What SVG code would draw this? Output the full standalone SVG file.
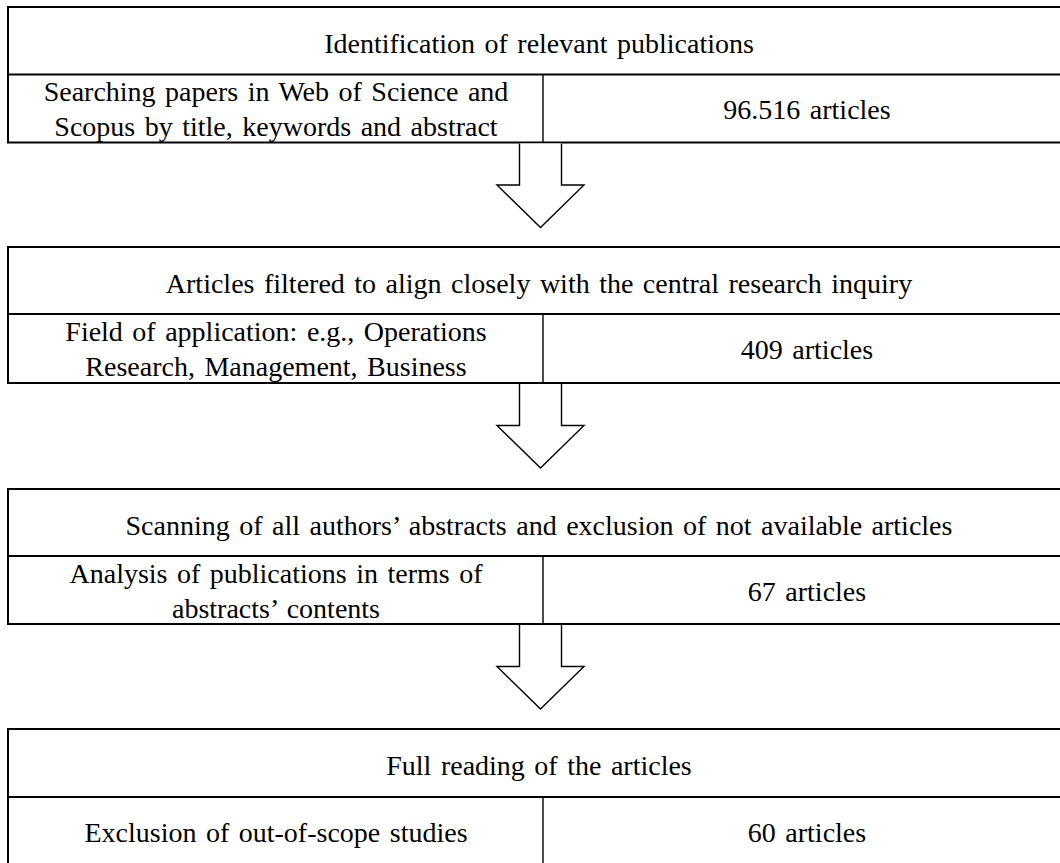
<svg xmlns="http://www.w3.org/2000/svg" width="1060" height="863" viewBox="0 0 1060 863">
<style>
.box{fill:#fff;stroke:#000;stroke-width:2}
.ln{stroke:#000;stroke-width:1.8;fill:none}
.vd{stroke:#000;stroke-width:1.4;fill:none}
.t{font-family:"Liberation Serif","Times New Roman",serif;font-size:28px;word-spacing:2.5px;fill:#000;text-anchor:middle}
.arr{fill:#fff;stroke:#000;stroke-width:1.4;stroke-linejoin:miter}
</style>
<rect width="1060" height="863" fill="#fff"/>
<g id="step1">
<rect class="box" x="8" y="7" width="1070" height="135.5"/>
<line class="ln" x1="8" y1="74.5" x2="1070" y2="74.5"/>
<line class="vd" x1="543" y1="74.5" x2="543" y2="142.5"/>
<text class="t" x="539" y="53">Identification of relevant publications</text>
<text class="t" x="276" y="101">Searching papers in Web of Science and</text>
<text class="t" x="276" y="136">Scopus by title, keywords and abstract</text>
<text class="t" x="807" y="119">96.516 articles</text>
</g>
<g id="step2">
<rect class="box" x="8" y="247" width="1070" height="136"/>
<line class="ln" x1="8" y1="314" x2="1070" y2="314"/>
<line class="vd" x1="543" y1="314" x2="543" y2="383"/>
<text class="t" x="539" y="293">Articles filtered to align closely with the central research inquiry</text>
<text class="t" x="276" y="341">Field of application: e.g., Operations</text>
<text class="t" x="276" y="376">Research, Management, Business</text>
<text class="t" x="807" y="359">409 articles</text>
</g>
<g id="step3">
<rect class="box" x="8" y="489" width="1070" height="135"/>
<line class="ln" x1="8" y1="556" x2="1070" y2="556"/>
<line class="vd" x1="543" y1="556" x2="543" y2="624"/>
<text class="t" x="539" y="535">Scanning of all authors’ abstracts and exclusion of not available articles</text>
<text class="t" x="276" y="583">Analysis of publications in terms of</text>
<text class="t" x="276" y="618">abstracts’ contents</text>
<text class="t" x="807" y="601">67 articles</text>
</g>
<g id="step4">
<rect class="box" x="8" y="729" width="1070" height="150"/>
<line class="ln" x1="8" y1="797" x2="1070" y2="797"/>
<line class="vd" x1="543" y1="797" x2="543" y2="870"/>
<text class="t" x="539" y="775">Full reading of the articles</text>
<text class="t" x="276" y="842">Exclusion of out-of-scope studies</text>
<text class="t" x="807" y="842">60 articles</text>
</g>
<g id="connectors">
<polyline class="arr" points="519.5,143.5 519.5,185 497,185 540.5,227.5 584,185 561.5,185 561.5,143.5"/>
<polyline class="arr" points="519.5,384 519.5,425.5 497,425.5 540.5,468 584,425.5 561.5,425.5 561.5,384"/>
<polyline class="arr" points="519.5,625 519.5,666.5 497,666.5 540.5,709 584,666.5 561.5,666.5 561.5,625"/>
</g>
</svg>
